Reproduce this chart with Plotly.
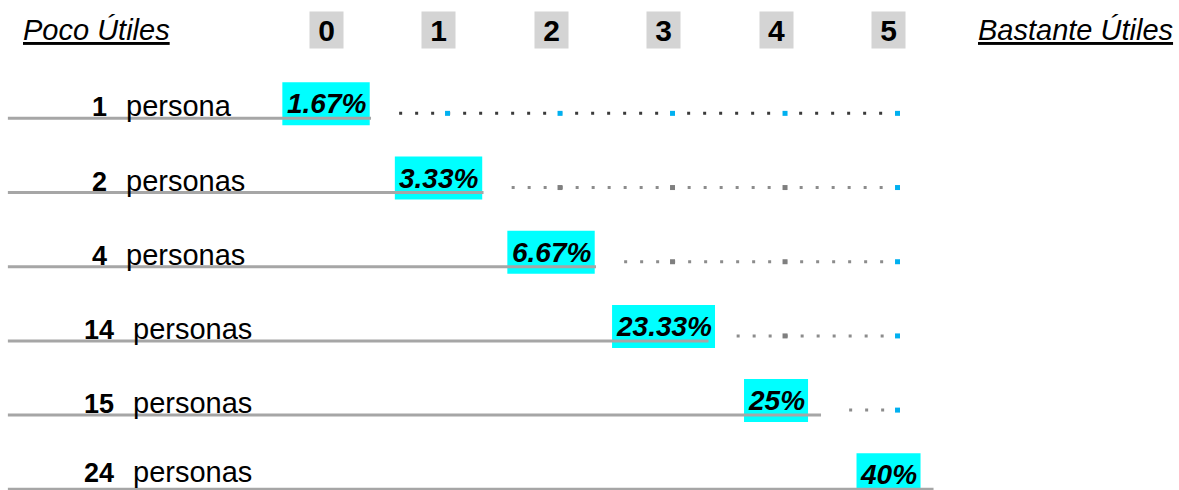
import plotly.graph_objects as go

# ---- data -------------------------------------------------------------
scores = [0, 1, 2, 3, 4, 5]
counts = [1, 2, 4, 14, 15, 24]
units = ["persona", "personas", "personas", "personas", "personas", "personas"]
percents = ["1.67%", "3.33%", "6.67%", "23.33%", "25%", "40%"]
low_label = "Poco Útiles"
high_label = "Bastante Útiles"

# ---- styles / layout constants ---------------------------------------
FONT = "Liberation Sans, Arial, sans-serif"
BAR_GREY = "#a6a6a6"
CYAN = "#00ffff"
BLUE = "#00b0f0"
BOX_GREY = "#d4d4d4"
MID_GREY = "#7f7f7f"
W, H = 1179, 490
X_RANGE = [-2.898, 7.582]
Y_RANGE = [5.01, -1.595]
HEADER_Y = -1.19
BAR_TAIL = 0.4
DOT_LEAD = 0.65
MARK_NUDGE = 0.08
DOT_DROP = 0.067
PCT_SIZE = 28
LABEL_SIZE = 29
# approximate Arial glyph advance widths (em) used to size the cyan boxes
GLYPH_EM = {"%": 0.889, ".": 0.278}

x_left = X_RANGE[0] + 0.07
top_score = max(scores)


def y_px(r):
    return (r - Y_RANGE[1]) / (Y_RANGE[0] - Y_RANGE[1]) * H


fig = go.Figure()
shapes = []
for r, s in enumerate(scores):
    # grey leading bar (drawn above the cyan box)
    fig.add_trace(go.Scatter(
        x=[x_left, s + BAR_TAIL], y=[r, r], mode="lines",
        line=dict(color=BAR_GREY, width=3), hoverinfo="skip", showlegend=False))
    if s < top_score:
        dot_col = "#3a3a3a" if r == 0 else "#8c8c8c"
        fig.add_trace(go.Scatter(
            x=[s + DOT_LEAD, top_score + MARK_NUDGE], y=[r - DOT_DROP] * 2,
            mode="lines", line=dict(color=dot_col, width=3, dash="3px,13px"),
            hoverinfo="skip", showlegend=False))
        cols = [c for c in scores if c > s]
        mcolors = [BLUE if (r == 0 or c == top_score) else MID_GREY for c in cols]
        fig.add_trace(go.Scatter(
            x=[c + MARK_NUDGE for c in cols], y=[r - DOT_DROP] * len(cols),
            mode="markers", marker=dict(symbol="square", size=5, color=mcolors),
            hoverinfo="skip", showlegend=False))

annotations = []
# header: score boxes
for s in scores:
    annotations.append(dict(
        x=s, y=HEADER_Y, xref="x", yref="y", text=f"<b>{s}</b>", showarrow=False,
        font=dict(family=FONT, size=30, color="black"), bgcolor=BOX_GREY,
        width=27, height=30, borderpad=3, xanchor="center", yanchor="middle"))
annotations.append(dict(
    x=21 / W, y=HEADER_Y, xref="paper", yref="y", text=f"<i><u>{low_label}</u></i>",
    showarrow=False, font=dict(family=FONT, size=29, color="black"),
    xanchor="left", yanchor="middle"))
annotations.append(dict(
    x=1175 / W, y=HEADER_Y, xref="paper", yref="y", text=f"<i><u>{high_label}</u></i>",
    showarrow=False, font=dict(family=FONT, size=29, color="black"),
    xanchor="right", yanchor="middle"))

num_x = -2.018
for r, (n, u, p, s) in enumerate(zip(counts, units, percents, scores)):
    # keep the label text inside the canvas at the last row
    lab_shift = 12
    bottom = y_px(r) - lab_shift + 17
    if bottom > H - 1:
        lab_shift += bottom - (H - 1)
    annotations.append(dict(
        x=num_x, y=r, xref="x", yref="y", text=f"<b>{n}</b>", showarrow=False,
        font=dict(family=FONT, size=27, color="black"), xanchor="center",
        yanchor="middle", yshift=lab_shift - 1))
    annotations.append(dict(
        x=num_x, y=r, xref="x", yref="y", text=u, showarrow=False,
        font=dict(family=FONT, size=LABEL_SIZE, color="black"), xanchor="left",
        yanchor="middle", yshift=lab_shift, xshift=17 + 7.5 * len(str(n))))
    # cyan highlight box behind the percentage (below the grey bar)
    em = sum(GLYPH_EM.get(ch, 0.556) for ch in p)
    half_w = (em * PCT_SIZE + 8) / 2
    shapes.append(dict(
        type="rect", layer="below", xref="x", yref="y",
        xsizemode="pixel", xanchor=s, x0=-half_w, x1=half_w,
        ysizemode="pixel", yanchor=r, y0=-7, y1=36,
        fillcolor=CYAN, line=dict(width=0)))
    annotations.append(dict(
        x=s, y=r, xref="x", yref="y", text=f"<b><i>{p}</i></b>", showarrow=False,
        font=dict(family=FONT, size=PCT_SIZE, color="black"),
        xanchor="center", yanchor="middle", yshift=14.5))

fig.update_layout(
    width=W, height=H, autosize=False,
    margin=dict(l=0, r=0, t=0, b=0, pad=0),
    paper_bgcolor="white", plot_bgcolor="white",
    xaxis=dict(range=X_RANGE, visible=False, fixedrange=True),
    yaxis=dict(range=Y_RANGE, visible=False, fixedrange=True),
    annotations=annotations, shapes=shapes, showlegend=False,
)

fig.write_html("out.html", config={"displayModeBar": False},
               post_script="document.body.style.margin='0';")
